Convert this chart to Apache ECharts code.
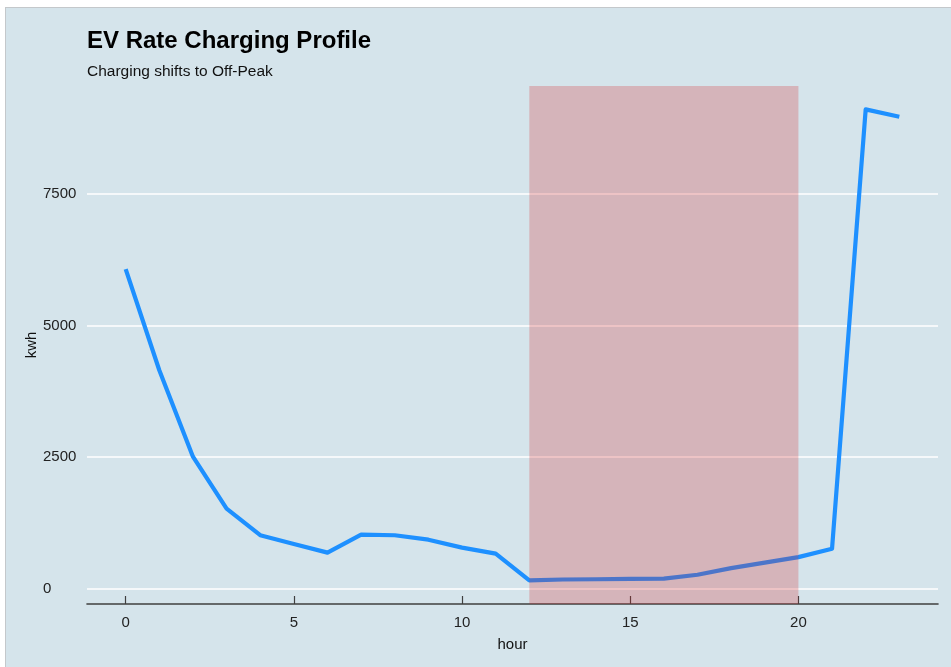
<!DOCTYPE html>
<html>
<head>
<meta charset="utf-8">
<script src="https://cdn.jsdelivr.net/npm/echarts@6/dist/echarts.min.js"></script>
<style>
  html, body { margin: 0; padding: 0; background: #ffffff; width: 951px; height: 667px; overflow: hidden; }
  #frame { position: absolute; left: 5px; top: 7px; right: 0; bottom: 0; background: #d5e4eb; border-left: 1px solid #c4c8cb; border-top: 1px solid #c4c8cb; }
  #chart { position: absolute; left: 0; top: 0; width: 951px; height: 667px; }
</style>
</head>
<body>
<div id="frame"></div>
<div id="chart"></div>
<script>
// ---- data ----
var hours = [0, 1, 2, 3, 4, 5, 6, 7, 8, 9, 10, 11, 12, 13, 14, 15, 16, 17, 18, 19, 20, 21, 22, 23];
var kwh = [6070, 4150, 2510, 1525, 1020, 855, 690, 1030, 1020, 935, 785, 670, 165, 180, 185, 190, 195, 270, 395, 500, 605, 765, 9100, 8960];
var xTicks = [0, 5, 10, 15, 20];
var yTicks = [0, 2500, 5000, 7500];
var offPeak = [12, 20];

var points = hours.map(function (h, i) { return [h, kwh[i]]; });
var font = '"Liberation Sans", Arial, sans-serif';
var plain = function (v) { return String(v); };

var chart = echarts.init(document.getElementById('chart'), null, { renderer: 'canvas' });
chart.setOption({
  backgroundColor: 'transparent',
  animation: false,
  title: [
    { text: 'EV Rate Charging Profile', left: 82, top: 24,
      textStyle: { fontFamily: font, fontSize: 24, fontWeight: 'bold', color: '#000' } },
    { text: 'Charging shifts to Off-Peak', left: 82, top: 59,
      textStyle: { fontFamily: font, fontSize: 15.5, fontWeight: 'normal', color: '#111' } }
  ],
  grid: { left: 87, right: 13, top: 86, bottom: 63, outerBoundsMode: 'none' },
  xAxis: {
    type: 'value', min: -1.15, max: 24.15,
    name: 'hour', nameLocation: 'middle', nameGap: 33, nameMoveOverlap: false,
    nameTextStyle: { fontFamily: font, fontSize: 15, color: '#111' },
    axisLine: { show: true, onZero: false, lineStyle: { color: '#3f3f3f', width: 1.6 } },
    axisTick: { show: true, inside: true, length: 8, customValues: xTicks, lineStyle: { color: '#3f3f3f', width: 1.2 } },
    axisLabel: { customValues: xTicks, formatter: plain, margin: 11, fontFamily: font, fontSize: 15, color: '#222' },
    splitLine: { show: false }
  },
  yAxis: {
    type: 'value', min: -285, max: 9544,
    name: 'kwh', nameLocation: 'middle', nameGap: 48, nameMoveOverlap: false,
    nameTextStyle: { fontFamily: font, fontSize: 15, color: '#111' },
    axisLine: { show: false },
    axisTick: { show: false, customValues: yTicks },
    axisLabel: { customValues: yTicks, formatter: plain, align: 'left', margin: 44, fontFamily: font, fontSize: 15, color: '#222' },
    splitLine: { show: true, lineStyle: { color: '#ffffff', width: 1.6 } }
  },
  series: [
    {
      type: 'line', data: points, symbol: 'none', z: 2,
      lineStyle: { color: '#1E90FF', width: 4.2, cap: 'butt', join: 'round' }
    },
    {
      type: 'line', data: [], z: 10,
      markArea: {
        silent: true, z: 10,
        itemStyle: { color: 'rgba(217,36,39,0.25)' },
        data: [[{ xAxis: offPeak[0] }, { xAxis: offPeak[1] }]]
      }
    }
  ]
});
</script>
</body>
</html>
